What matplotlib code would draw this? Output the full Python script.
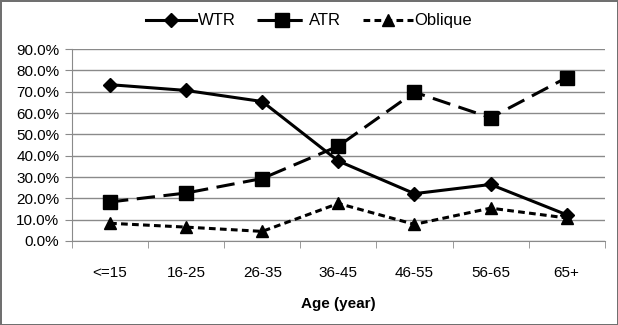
import matplotlib.pyplot as plt
from matplotlib.ticker import FuncFormatter, MultipleLocator

plt.rcParams['font.family'] = ['Liberation Sans', 'DejaVu Sans']

ages = ['<=15', '16-25', '26-35', '36-45', '46-55', '56-65', '65+']
wtr = [73.3, 70.6, 65.4, 37.5, 22.2, 26.5, 12.3]
atr = [18.3, 22.5, 29.3, 44.5, 69.8, 57.8, 76.6]
oblique = [8.3, 6.5, 4.5, 17.6, 7.8, 15.4, 10.8]

fig = plt.figure(figsize=(6.18, 3.25), dpi=100)
fig.patch.set_edgecolor('#707070')
fig.patch.set_linewidth(2)
ax = fig.add_axes([0.1165, 0.2585, 0.862, 0.5905])

x = list(range(len(ages)))
ax.plot(x, wtr, color='black', lw=2.2, marker='D', ms=7, label='WTR')
ax.plot(x, atr, color='black', lw=2.2, marker='s', ms=10, dashes=(6, 2.8), label='ATR')
ax.plot(x, oblique, color='black', lw=2.2, marker='^', ms=9, dashes=(2.2, 1.4), label='Oblique')

ax.set_xlim(-0.5, len(ages) - 0.5)
ax.set_ylim(0, 90)
ax.yaxis.set_major_locator(MultipleLocator(10))
ax.yaxis.set_major_formatter(FuncFormatter(lambda v, p: f'{v:.1f}%'))
ax.grid(axis='y', color='#8a8a8a', lw=1)
ax.set_axisbelow(True)

ax.set_xticks(x)
ax.set_xticklabels(ages)
ax.set_xticks([i - 0.5 for i in range(len(ages) + 1)], minor=True)
ax.tick_params(axis='x', which='major', length=0, pad=18, labelsize=11)
ax.tick_params(axis='x', which='minor', length=5, color='#8a8a8a', direction='out')
ax.tick_params(axis='y', length=5, color='#8a8a8a', labelsize=11, pad=4)

for s in ['top', 'right']:
    ax.spines[s].set_visible(False)
for s in ['left', 'bottom']:
    ax.spines[s].set_color('#8a8a8a')

ax.set_xlabel('Age (year)', fontsize=11, fontweight='bold', labelpad=12)

fig.legend(loc='upper center', bbox_to_anchor=(0.5, 1.005), ncol=3, frameon=False,
           fontsize=12, handlelength=3.0, handletextpad=0.1, columnspacing=1.3)

fig.savefig('out.png', dpi=100, edgecolor=fig.get_edgecolor())
